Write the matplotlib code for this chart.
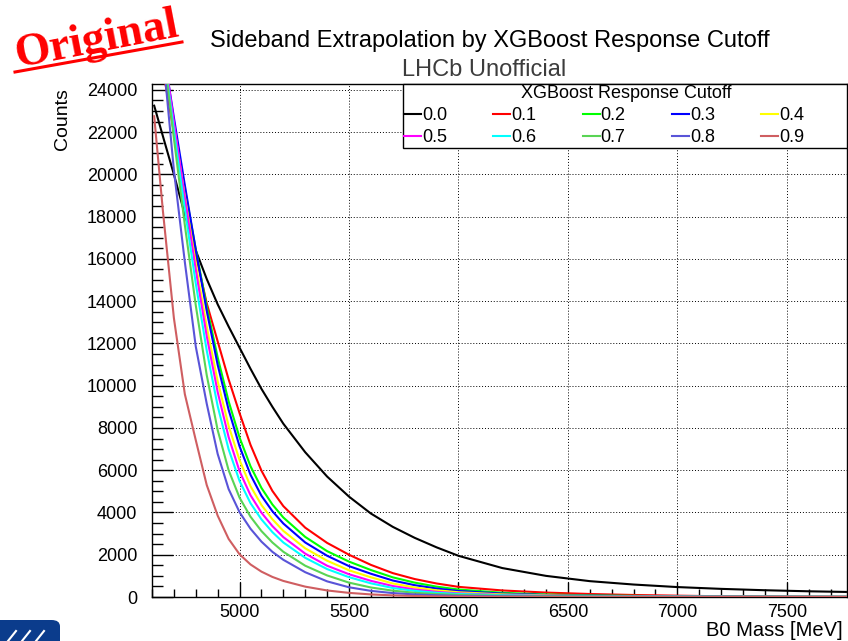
import matplotlib
matplotlib.use("Agg")
import matplotlib.pyplot as plt
import matplotlib.patches as patches
from matplotlib.lines import Line2D
from matplotlib.ticker import MultipleLocator

plt.rcParams['font.family'] = ['Liberation Sans', 'DejaVu Sans']

# B0 mass points (MeV) at which the extrapolated sideband counts are read
mass = [4610, 4650, 4700, 4750, 4800, 4850, 4900, 4950, 5000, 5050,
        5100, 5150, 5200, 5300, 5400, 5500, 5600, 5700, 5800, 5900,
        6000, 6200, 6400, 6600, 6800, 7000, 7200, 7400, 7600, 7770]

cut_00 = [23250, 21800, 20000, 18100, 16400, 15050, 13850, 12800, 11800, 10800,
          9850, 9000, 8200, 6850, 5700, 4750, 3950, 3320, 2800, 2350,
          1950, 1370, 1000, 750, 590, 470, 385, 320, 270, 240]
cut_01 = [27160, 24940, 22000, 19000, 16200, 13900, 12100, 10300, 8700, 7200,
          5980, 5020, 4300, 3280, 2560, 2000, 1520, 1130, 850, 640,
          480, 310, 210, 142, 95, 63, 35, 18, 10, 6]
cut_02 = [27870, 25400, 22300, 19320, 16460, 13740, 11340, 9263, 7548, 6187,
          5161, 4377, 3762, 2843, 2169, 1675, 1277, 930, 680, 490,
          355, 200, 120, 78, 52, 36, 25, 18, 13, 10]
cut_03 = [28650, 26000, 22690, 19490, 16430, 13540, 10990, 8860, 7130, 5784,
          4790, 4059, 3477, 2580, 1952, 1461, 1101, 780, 560, 400,
          285, 160, 95, 62, 42, 29, 20, 14, 10, 8]
cut_04 = [28610, 25820, 22320, 18960, 15770, 12800, 10210, 8100, 6480, 5245,
          4354, 3680, 3128, 2303, 1716, 1264, 932, 640, 450, 318,
          225, 125, 78, 50, 33, 23, 16, 12, 8, 6]
cut_05 = [29220, 26220, 22480, 18890, 15490, 12350, 9700, 7570, 5952, 4815,
          3990, 3355, 2833, 2052, 1480, 1077, 765, 520, 355, 245,
          172, 95, 58, 37, 25, 17, 12, 9, 6, 5]
cut_06 = [29130, 26000, 22090, 18350, 14830, 11665, 9035, 6992, 5490, 4439,
          3673, 3070, 2580, 1854, 1321, 938, 647, 425, 290, 200,
          143, 83, 50, 32, 21, 15, 10, 7, 5, 4]
cut_07 = [29500, 26000, 21700, 17600, 13800, 10500, 7900, 6000, 4700, 3800,
          3120, 2580, 2140, 1480, 1020, 680, 450, 300, 200, 140,
          100, 58, 36, 23, 15, 10, 7, 5, 4, 3]
cut_08 = [29500, 25700, 20200, 15850, 11850, 9150, 6770, 5108, 4012, 3230,
          2620, 2137, 1760, 1173, 740, 460, 290, 185, 122, 82,
          56, 30, 18, 12, 8, 6, 5, 4, 3, 2]
cut_09 = [22750, 18250, 13200, 9600, 7420, 5300, 3850, 2750, 2020, 1540,
          1200, 950, 760, 490, 310, 195, 122, 76, 48, 30,
          19, 10, 6, 4, 3, 2, 2, 1, 1, 1]

cut_labels = ['0.0', '0.1', '0.2', '0.3', '0.4', '0.5', '0.6', '0.7', '0.8', '0.9']
cut_colors = ['#000000', '#FF0000', '#00FF00', '#0000FF', '#FFFF00',
              '#FF00FF', '#00FFFF', '#59D454', '#5954D8', '#CF5E61']
series = [cut_00, cut_01, cut_02, cut_03, cut_04,
          cut_05, cut_06, cut_07, cut_08, cut_09]

W, H = 848, 641
fig = plt.figure(figsize=(W / 100, H / 100), dpi=100)

def fx(px):
    return px / W

def fy(py):
    return 1 - py / H

ax = fig.add_axes([fx(152), fy(597), fx(847) - fx(152), fy(83.5) - fy(597)])

for vals, col in zip(series, cut_colors):
    ax.plot(mass, vals, color=col, lw=1.5, zorder=3)

ax.set_xlim(4600, 7775)
ax.set_ylim(0, 24300)
ax.xaxis.set_major_locator(MultipleLocator(500))
ax.xaxis.set_minor_locator(MultipleLocator(100))
ax.yaxis.set_major_locator(MultipleLocator(2000))
ax.yaxis.set_minor_locator(MultipleLocator(500))

ax.tick_params(axis='y', which='major', direction='in', length=15, width=1,
               labelsize=13, pad=10.5)
ax.tick_params(axis='y', which='minor', direction='in', length=8, width=1)
ax.tick_params(axis='x', which='major', direction='in', length=11, width=1,
               labelsize=13, pad=5)
ax.tick_params(axis='x', which='minor', direction='in', length=6, width=1)

ax.grid(True, which='major', color='black', linestyle=(0, (1, 2)), lw=0.7, zorder=1)
for s in ax.spines.values():
    s.set_linewidth(1)
    s.set_color('black')

# axis titles in ROOT placement
fig.text(fx(63), fy(88), 'Counts', rotation=90, ha='center', va='top', fontsize=14)
fig.text(fx(843), fy(631), 'B0 Mass [MeV]', ha='right', va='center', fontsize=14.5)

# titles
fig.text(fx(490), fy(41), 'Sideband Extrapolation by XGBoost Response Cutoff',
         ha='center', va='center', fontsize=17)
fig.text(fx(484), fy(70), 'LHCb Unofficial', ha='center', va='center',
         fontsize=17, color='#3c3c3c')

# legend box, title and entries (filled row by row)
box = patches.Rectangle((fx(402.5), fy(148)), fx(847) - fx(402.5), fy(83.5) - fy(148),
                        transform=fig.transFigure, fc='white', ec='black', lw=1,
                        zorder=5)
fig.add_artist(box)
fig.text(fx(626), fy(93), 'XGBoost Response Cutoff', ha='center', va='center',
         fontsize=13, zorder=6)
handles = [Line2D([], [], color=c, lw=1.5) for c in cut_colors]
order = [0, 5, 1, 6, 2, 7, 3, 8, 4, 9]
leg = fig.legend([handles[i] for i in order], [cut_labels[i] for i in order],
                 ncol=5, loc='upper left', bbox_to_anchor=(fx(404), fy(107)),
                 frameon=False, fontsize=13, handlelength=0.94, handletextpad=0.05,
                 columnspacing=2.57, labelspacing=0.27, borderpad=0,
                 borderaxespad=0)
leg.set_zorder(6)

# "Original" stamp
fig.text(fx(97), fy(41), 'Original', rotation=11, ha='center', va='center',
         fontsize=33, color='red', fontweight='bold', family='Liberation Serif')
fig.add_artist(Line2D([fx(15), fx(182)], [fy(72), fy(42)], color='red', lw=2.2,
                      transform=fig.transFigure))

# corner logo piece
logo = patches.FancyBboxPatch((fx(-10), fy(650)), fx(70), fy(620) - fy(650),
                              boxstyle='round,pad=0,rounding_size=0.01',
                              transform=fig.transFigure, fc='#0B3C8C', ec='none')
fig.add_artist(logo)
for x0 in (8, 22, 36):
    fig.add_artist(Line2D([fx(x0), fx(x0 + 8)], [fy(641), fy(631)], color='white',
                          lw=1.5, transform=fig.transFigure))

fig.savefig('out.png', dpi=100)
